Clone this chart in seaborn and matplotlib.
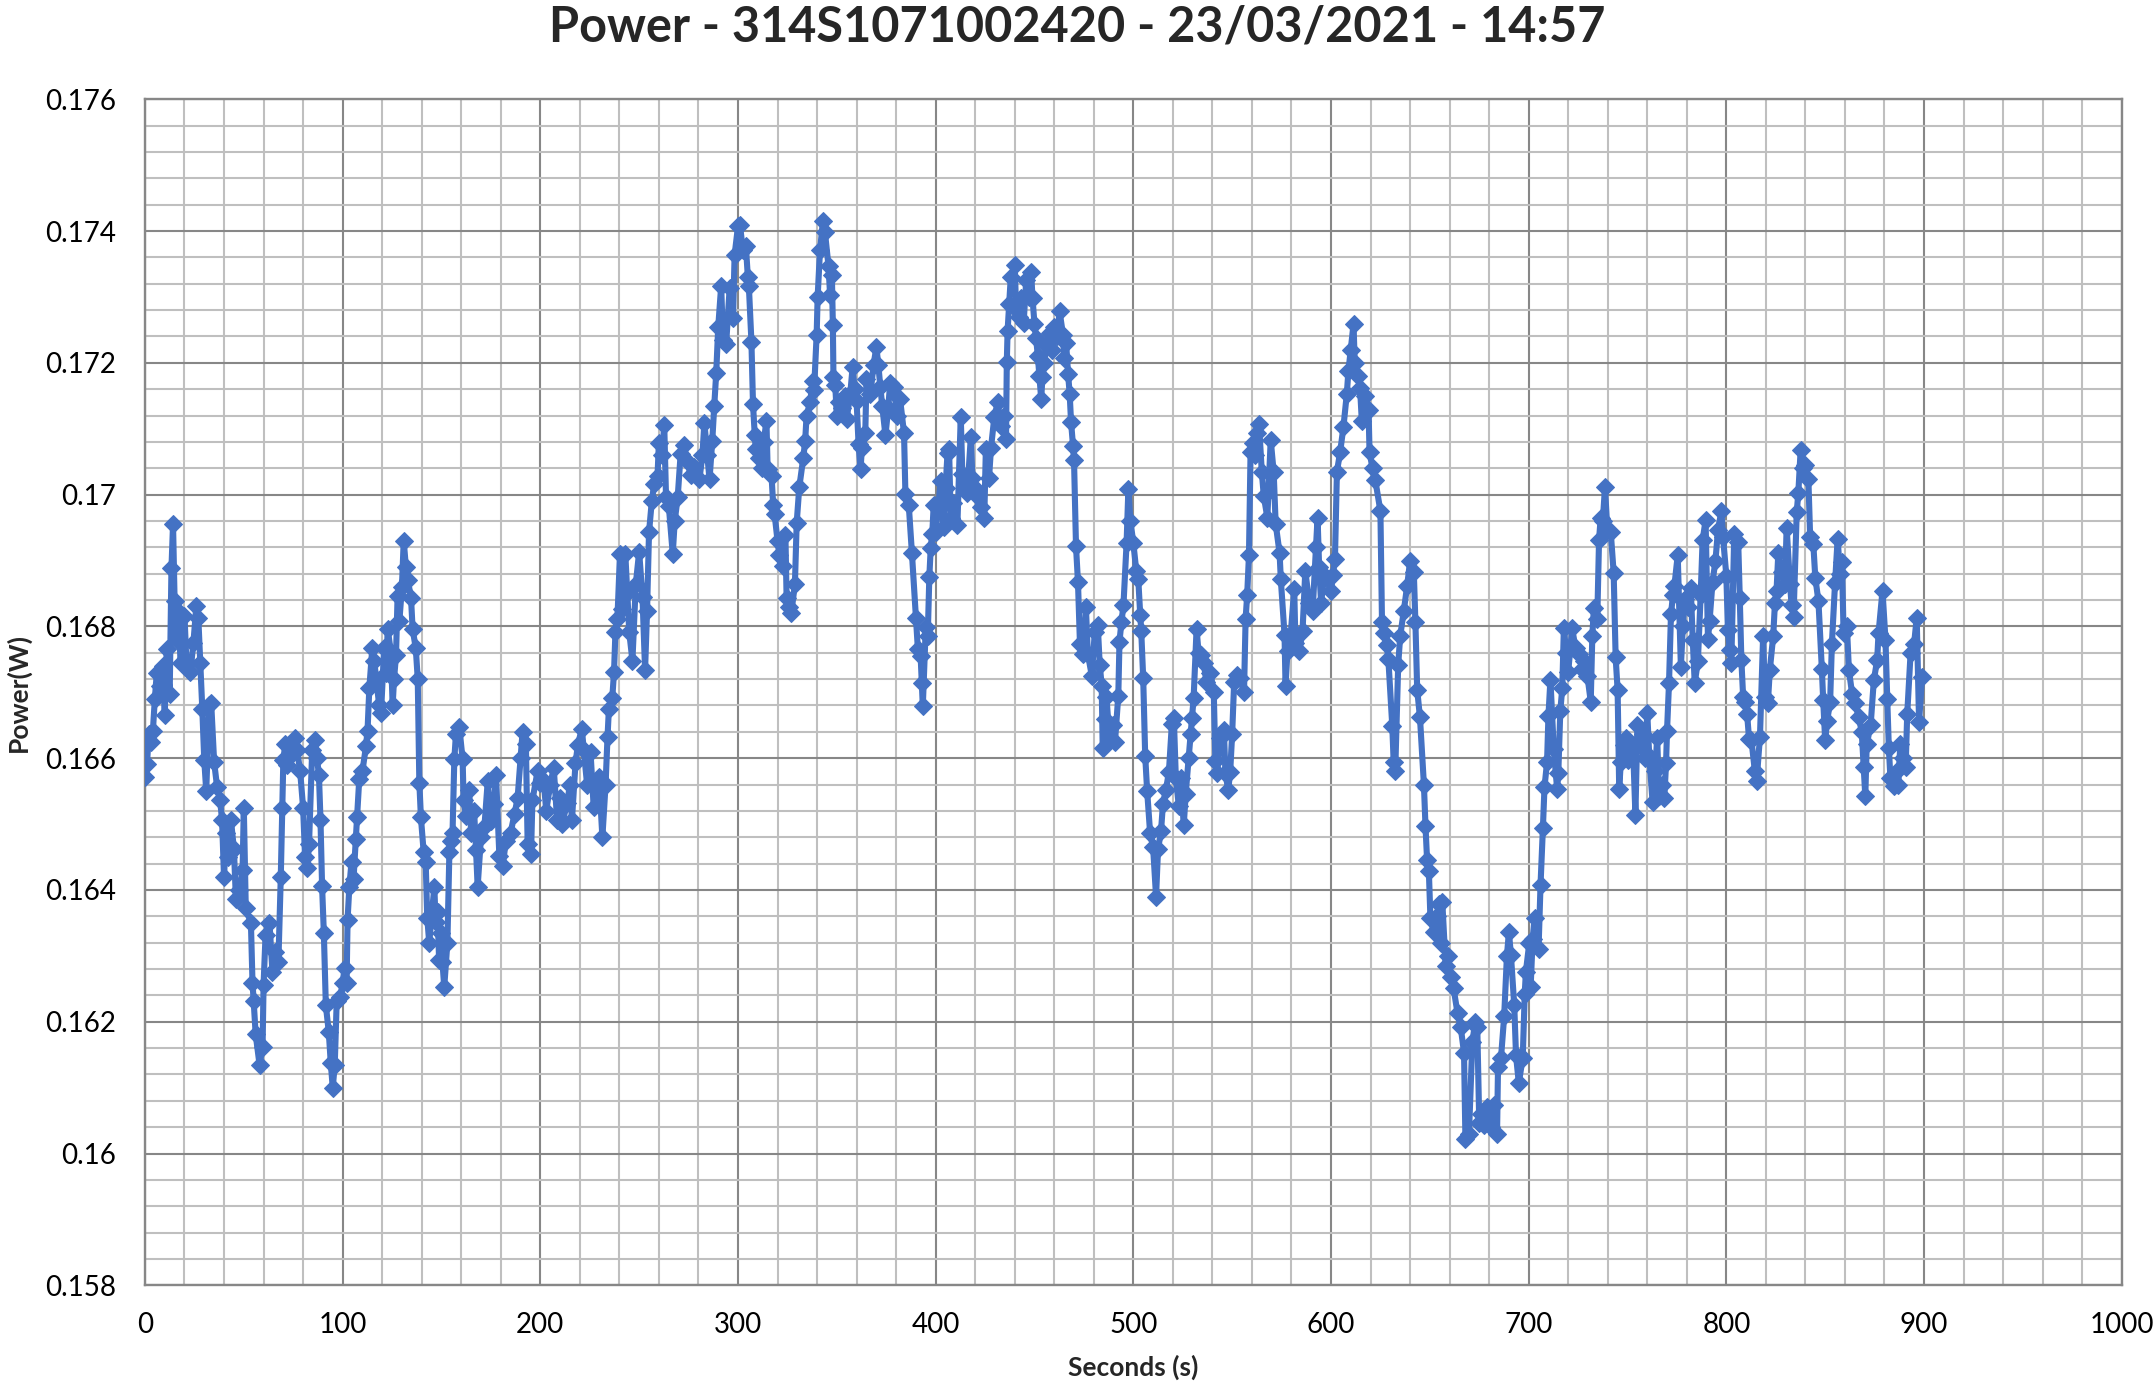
import matplotlib
matplotlib.use("Agg")
import matplotlib.pyplot as plt
from matplotlib.ticker import MultipleLocator, FixedLocator, FixedFormatter
import seaborn as sns
import pandas as pd

# ---------------- data ----------------
seconds = [
    0, 1, 2, 3, 4, 5, 6, 7.5, 9, 10, 11, 12.5, 13.4, 14.2, 15, 16, 17, 18, 20, 21,
    22, 23, 24.5, 26, 27, 28, 29, 30, 31, 32.5, 33.5, 35, 36.5, 38, 39, 40, 41, 42, 43.5, 45,
    46, 47.7, 49.4, 50, 51, 53.6, 54.4, 55, 56, 58, 59.5, 60, 61, 63, 64.5, 66, 67.5, 68.7, 69.5, 70,
    71, 72, 73.5, 74.5, 76, 77, 78.5, 80, 81, 82, 83, 84.6, 86, 87, 88, 88.8, 89.6, 90.5, 91.5, 93,
    94, 95, 96, 97, 98.8, 100,
    101, 102, 102.5, 103.4, 104.5, 105.5, 106.7, 107.3, 108.4, 110, 111.8, 112.6, 113.5, 115, 116, 117, 118.5, 119.4, 121, 122,
    122.8, 124.4, 125.3, 126, 127, 127.8, 128.7, 130, 130.9, 132, 133, 134.6, 135.4, 137, 138, 138.8, 139.6, 141, 142, 142.8,
    143.8, 145, 146.4, 147, 148, 148.8, 149.7, 150.5, 151.4, 153, 154, 154.8, 155.6, 156.5, 157.3, 159, 160.7, 161.2, 162.4, 164,
    165, 166.5, 167.5, 168.3, 170, 171.7, 173.4, 175, 176.5, 177.6, 179.3, 181, 182.6, 185, 187, 188.5, 190, 191, 192.7, 193.6,
    195.3, 196, 198.6, 200,
    201.7, 203, 205, 206.8, 208.5, 210, 211, 213.6, 215, 216, 217.8, 219, 221, 222, 223.7, 225.4, 227, 228.5, 229.7, 231.4,
    233, 234, 234.7, 236.4, 237.3, 238, 239, 240.3, 241.5, 243, 244, 245, 246.6, 248.3, 250, 251.7, 253, 254, 255, 256.4,
    257.6, 259.3, 260, 261.5, 262.7, 263.6, 265, 267, 268, 269.5, 271, 272.5, 274.6, 276, 278, 280.5, 282, 283, 284.5, 285.6,
    287, 288, 289, 290, 291.5, 292.4, 294, 295.8, 297.5, 298.3, 300,
    301, 302.5, 304, 305, 305.5, 306.8, 307.6, 308.5, 309, 310.5, 312, 313, 314.4, 315, 317, 317.8, 318.5, 320, 321, 323,
    324, 324.6, 326, 327, 328.8, 329.7, 331, 333, 334, 334.7, 336.5, 337.8, 338.5, 339.8, 340.3, 341.5, 343, 344, 345.8, 346.6,
    347.5, 348, 348.3, 349.2, 350, 351.2, 352.5, 354, 355, 356.8, 358, 359, 360, 361, 362, 362.7, 364.4, 365, 367, 368.6,
    370, 371, 372, 373, 374.6, 376, 377, 378.8, 380.5, 382, 384, 384.7, 386.4, 388, 390, 391, 392.4, 393, 393.5, 395,
    396, 396.8, 397.5, 398.3, 399, 400,
    401.5, 402.5, 404, 405, 406, 406.8, 407.6, 409, 411, 412.7, 413.5, 415, 416, 417.8, 418.6, 420, 421, 423, 424.6, 425.4,
    427, 428, 429.7, 431.4, 433, 434.5, 435.6, 436, 436.4, 437.2, 438, 440, 440.7, 442, 443, 444.5, 445.8, 447, 448.3, 449,
    450, 450.8, 451.7, 452.5, 453.4, 454, 455, 456, 457.6, 459, 460, 461.5, 462.7, 464.4, 465, 466, 467, 467.8, 468.5, 469.5,
    470, 471, 472, 473, 474.6, 476, 477, 479, 480.5, 482, 483, 484, 484.5, 485.5, 486.4, 488, 489.5, 490.7, 492.4, 493,
    494, 495, 496.6, 497.5, 498.5, 500,
    501.5, 502.5, 503.5, 504, 505, 506, 507, 508.5, 510, 511.5, 512.5, 514, 515, 516.5, 518, 519.5, 520.5, 521.5, 523, 524,
    525.5, 526.5, 528, 529, 529.7, 530.5, 532, 533, 534, 535.6, 537, 539, 540.7, 541.5, 542.4, 544, 545.8, 546.6, 548, 549,
    550, 551, 552.5, 554, 556, 556.8, 557.6, 558.5, 559.3, 560.5, 561.5, 562.7, 563.6, 565, 566, 567.8, 569.5, 571, 572, 574,
    574.6, 576.5, 577, 578, 579.6, 581.4, 582, 584, 585.6, 587, 589, 590.7, 592.4, 593.2, 594, 595, 596.6, 598.3, 600,
    601, 602, 603, 604.6, 606.3, 608, 608.8, 610, 611.4, 612, 613.5, 614.7, 615.6, 617, 619, 619.5, 621, 622.4, 625, 625.8,
    627, 628.3, 629, 631, 631.7, 632.5, 634, 635, 636.8, 638.5, 640, 641.9, 642.7, 643.6, 645, 647, 647.8, 648.6, 649.5, 650.3,
    652, 653.5, 654.6, 655.5, 656.3, 658, 659, 660.5, 662, 664, 665.6, 667.3, 668, 669.8, 671.5, 673, 674, 675, 676, 677.5,
    679, 680, 681, 682.5, 684, 684.5, 686, 687.6, 689, 690, 691, 692.7, 693.6, 695, 697, 698, 698.6, 700.3,
    701, 702, 703, 705, 706, 707.2, 708, 709.3, 710, 711, 712.7, 714.4, 715, 716, 717, 717.8, 719, 720, 722, 723.7,
    725.4, 727, 728, 729.7, 731.4, 732.2, 733, 734.7, 735.6, 736.4, 737.5, 738.6, 739.8, 741.5, 743, 744, 745, 745.8, 746.6, 748,
    749, 750, 751.7, 753, 754, 755, 756.5, 757.6, 759, 760, 761, 762.7, 764, 765, 766, 767.5, 768.6, 769.5, 770, 771,
    772, 773, 773.7, 775.4, 777, 778, 779, 780.5, 782, 783, 784, 785.6, 787, 788, 789.5, 790.7, 791.5, 793, 794.5, 795.8,
    797.5, 798.3, 800,
    800.8, 801.7, 802.5, 804, 806, 806.8, 807.6, 808.5, 809.3, 810.5, 811.5, 812.7, 814.4, 815.3, 817, 818.6, 819.5, 821, 822, 823.7,
    824.6, 825.4, 826.3, 828, 829.7, 830.5, 832.2, 833, 834, 835.6, 836.4, 837.6, 839, 840, 841.5, 842.4, 844, 845, 846.6, 848.3,
    849, 850, 851, 852.5, 853.4, 855, 856.3, 857.5, 858.5, 859.3, 861, 862, 863.6, 865.3, 867, 868.5, 869.5, 870.3, 871, 873,
    874.6, 876.3, 877, 879, 880.5, 881.4, 882.2, 883, 884.7, 886.4, 887, 888, 889.5, 890.7, 891.5, 893.2, 895, 896.3, 897.5, 899,
]

power_w = [
    0.16572, 0.16591, 0.16637, 0.16625, 0.16641, 0.16690, 0.16730, 0.16709, 0.16740, 0.16666, 0.16766, 0.16697, 0.16888, 0.16955, 0.16838, 0.16780, 0.16822, 0.16744, 0.16816, 0.16744,
    0.16744, 0.16731, 0.16775, 0.16831, 0.16812, 0.16744, 0.16675, 0.16597, 0.16550, 0.16681, 0.16684, 0.16594, 0.16556, 0.16537, 0.16506, 0.16419, 0.16487, 0.16450, 0.16506, 0.16462,
    0.16387, 0.16400, 0.16431, 0.16525, 0.16372, 0.16350, 0.16259, 0.16231, 0.16181, 0.16134, 0.16162, 0.16256, 0.16331, 0.16350, 0.16275, 0.16306, 0.16291, 0.16419, 0.16525, 0.16597,
    0.16622, 0.16590, 0.16615, 0.16606, 0.16630, 0.16612, 0.16580, 0.16525, 0.16450, 0.16434, 0.16470, 0.16612, 0.16628, 0.16600, 0.16575, 0.16506, 0.16406, 0.16334, 0.16225, 0.16184,
    0.16137, 0.16100, 0.16134, 0.16231, 0.16237, 0.16259,
    0.16282, 0.16259, 0.16355, 0.16405, 0.16443, 0.16416, 0.16478, 0.16510, 0.16568, 0.16580, 0.16618, 0.16642, 0.16706, 0.16767, 0.16747, 0.16720, 0.16680, 0.16668, 0.16767, 0.16730,
    0.16796, 0.16761, 0.16680, 0.16720, 0.16756, 0.16846, 0.16808, 0.16860, 0.16930, 0.16890, 0.16870, 0.16843, 0.16796, 0.16767, 0.16720, 0.16563, 0.16510, 0.16457, 0.16443, 0.16358,
    0.16320, 0.16360, 0.16405, 0.16352, 0.16367, 0.16294, 0.16335, 0.16290, 0.16253, 0.16320, 0.16457, 0.16475, 0.16487, 0.16598, 0.16636, 0.16648, 0.16598, 0.16536, 0.16513, 0.16551,
    0.16487, 0.16520, 0.16460, 0.16405, 0.16481, 0.16495, 0.16565, 0.16504, 0.16530, 0.16574, 0.16451, 0.16437, 0.16475, 0.16487, 0.16516, 0.16539, 0.16600, 0.16639, 0.16621, 0.16469,
    0.16454, 0.16536, 0.16580, 0.16563,
    0.16566, 0.16520, 0.16560, 0.16585, 0.16506, 0.16540, 0.16500, 0.16532, 0.16560, 0.16506, 0.16592, 0.16620, 0.16645, 0.16612, 0.16559, 0.16609, 0.16526, 0.16560, 0.16572, 0.16480,
    0.16559, 0.16632, 0.16675, 0.16691, 0.16731, 0.16791, 0.16811, 0.16910, 0.16827, 0.16910, 0.16850, 0.16791, 0.16748, 0.16864, 0.16913, 0.16844, 0.16734, 0.16824, 0.16943, 0.16990,
    0.17016, 0.17029, 0.17079, 0.17060, 0.17105, 0.16996, 0.16983, 0.16910, 0.16960, 0.16996, 0.17062, 0.17075, 0.17049, 0.17030, 0.17042, 0.17023, 0.17060, 0.17109, 0.17060, 0.17023,
    0.17082, 0.17135, 0.17185, 0.17254, 0.17317, 0.17234, 0.17228, 0.17314, 0.17268, 0.17364, 0.17407,
    0.17409, 0.17371, 0.17377, 0.17330, 0.17317, 0.17232, 0.17137, 0.17090, 0.17069, 0.17055, 0.17041, 0.17080, 0.17112, 0.17039, 0.17028, 0.16984, 0.16971, 0.16930, 0.16908, 0.16892,
    0.16938, 0.16843, 0.16830, 0.16821, 0.16864, 0.16957, 0.17011, 0.17055, 0.17082, 0.17120, 0.17140, 0.17172, 0.17159, 0.17243, 0.17300, 0.17371, 0.17415, 0.17398, 0.17347, 0.17303,
    0.17333, 0.17257, 0.17178, 0.17167, 0.17120, 0.17140, 0.17131, 0.17150, 0.17115, 0.17153, 0.17194, 0.17160, 0.17142, 0.17077, 0.17039, 0.17071, 0.17093, 0.17175, 0.17153, 0.17197,
    0.17224, 0.17197, 0.17164, 0.17134, 0.17090, 0.17131, 0.17170, 0.17164, 0.17120, 0.17145, 0.17093, 0.17001, 0.16984, 0.16911, 0.16813, 0.16766, 0.16755, 0.16714, 0.16679, 0.16799,
    0.16785, 0.16875, 0.16919, 0.16941, 0.16984, 0.16943,
    0.16987, 0.17020, 0.16951, 0.17010, 0.17063, 0.17069, 0.16965, 0.16987, 0.16954, 0.17118, 0.17031, 0.17010, 0.17003, 0.17088, 0.17025, 0.17010, 0.16998, 0.16981, 0.16965, 0.17069,
    0.17025, 0.17071, 0.17118, 0.17140, 0.17104, 0.17120, 0.17085, 0.17202, 0.17249, 0.17290, 0.17330, 0.17349, 0.17281, 0.17270, 0.17298, 0.17260, 0.17325, 0.17300, 0.17338, 0.17298,
    0.17259, 0.17238, 0.17210, 0.17180, 0.17145, 0.17178, 0.17200, 0.17227, 0.17246, 0.17220, 0.17254, 0.17240, 0.17278, 0.17243, 0.17208, 0.17230, 0.17183, 0.17153, 0.17110, 0.17074,
    0.17052, 0.16922, 0.16867, 0.16774, 0.16758, 0.16829, 0.16758, 0.16725, 0.16791, 0.16802, 0.16742, 0.16710, 0.16616, 0.16660, 0.16693, 0.16627, 0.16650, 0.16624, 0.16695, 0.16777,
    0.16807, 0.16832, 0.16927, 0.17009, 0.16960, 0.16927,
    0.16884, 0.16872, 0.16817, 0.16793, 0.16721, 0.16604, 0.16550, 0.16486, 0.16465, 0.16390, 0.16462, 0.16489, 0.16531, 0.16552, 0.16579, 0.16652, 0.16661, 0.16570, 0.16528, 0.16570,
    0.16498, 0.16546, 0.16600, 0.16637, 0.16661, 0.16691, 0.16796, 0.16760, 0.16757, 0.16745, 0.16715, 0.16730, 0.16700, 0.16595, 0.16577, 0.16631, 0.16643, 0.16577, 0.16552, 0.16579,
    0.16637, 0.16715, 0.16727, 0.16721, 0.16700, 0.16811, 0.16848, 0.16908, 0.17064, 0.17079, 0.17060, 0.17094, 0.17107, 0.17034, 0.16998, 0.16965, 0.17083, 0.17034, 0.16956, 0.16911,
    0.16872, 0.16787, 0.16710, 0.16763, 0.16787, 0.16857, 0.16775, 0.16763, 0.16793, 0.16884, 0.16836, 0.16823, 0.16920, 0.16965, 0.16890, 0.16836, 0.16878, 0.16872, 0.16854,
    0.16878, 0.16903, 0.17035, 0.17064, 0.17103, 0.17153, 0.17187, 0.17220, 0.17259, 0.17200, 0.17180, 0.17162, 0.17111, 0.17150, 0.17128, 0.17064, 0.17040, 0.17022, 0.16975, 0.16806,
    0.16790, 0.16772, 0.16751, 0.16649, 0.16594, 0.16581, 0.16742, 0.16785, 0.16823, 0.16861, 0.16899, 0.16882, 0.16806, 0.16704, 0.16662, 0.16560, 0.16497, 0.16446, 0.16429, 0.16357,
    0.16336, 0.16360, 0.16378, 0.16319, 0.16382, 0.16285, 0.16300, 0.16268, 0.16251, 0.16213, 0.16192, 0.16153, 0.16022, 0.16030, 0.16169, 0.16200, 0.16192, 0.16047, 0.16060, 0.16043,
    0.16070, 0.16064, 0.16040, 0.16073, 0.16030, 0.16132, 0.16145, 0.16208, 0.16300, 0.16336, 0.16302, 0.16225, 0.16149, 0.16107, 0.16145, 0.16242, 0.16276, 0.16319,
    0.16253, 0.16325, 0.16358, 0.16311, 0.16408, 0.16494, 0.16556, 0.16594, 0.16664, 0.16719, 0.16614, 0.16553, 0.16578, 0.16672, 0.16706, 0.16797, 0.16760, 0.16731, 0.16797, 0.16767,
    0.16758, 0.16736, 0.16747, 0.16725, 0.16686, 0.16786, 0.16828, 0.16811, 0.16931, 0.16964, 0.16960, 0.17011, 0.16947, 0.16944, 0.16881, 0.16753, 0.16703, 0.16553, 0.16594, 0.16620,
    0.16631, 0.16597, 0.16619, 0.16600, 0.16514, 0.16650, 0.16620, 0.16636, 0.16600, 0.16669, 0.16603, 0.16533, 0.16580, 0.16631, 0.16542, 0.16560, 0.16539, 0.16592, 0.16642, 0.16714,
    0.16819, 0.16847, 0.16861, 0.16908, 0.16739, 0.16800, 0.16842, 0.16830, 0.16858, 0.16780, 0.16714, 0.16747, 0.16847, 0.16931, 0.16961, 0.16781, 0.16808, 0.16867, 0.16900, 0.16947,
    0.16975, 0.16936, 0.16877,
    0.16795, 0.16764, 0.16744, 0.16940, 0.16928, 0.16843, 0.16749, 0.16693, 0.16685, 0.16667, 0.16629, 0.16627, 0.16581, 0.16565, 0.16632, 0.16785, 0.16693, 0.16683, 0.16734, 0.16785,
    0.16836, 0.16854, 0.16912, 0.16882, 0.16864, 0.16950, 0.16864, 0.16833, 0.16815, 0.16973, 0.17002, 0.17068, 0.17040, 0.17045, 0.17024, 0.16935, 0.16925, 0.16874, 0.16838, 0.16736,
    0.16688, 0.16627, 0.16657, 0.16685, 0.16774, 0.16866, 0.16933, 0.16880, 0.16897, 0.16790, 0.16800, 0.16734, 0.16698, 0.16683, 0.16662, 0.16640, 0.16586, 0.16542, 0.16621, 0.16650,
    0.16718, 0.16749, 0.16790, 0.16854, 0.16780, 0.16690, 0.16616, 0.16570, 0.16558, 0.16581, 0.16560, 0.16621, 0.16600, 0.16586, 0.16667, 0.16759, 0.16774, 0.16813, 0.16655, 0.16723,
]

x_ticks = [0, 100, 200, 300, 400, 500, 600, 700, 800, 900, 1000]
x_tick_labels = ["0", "100", "200", "300", "400", "500", "600", "700", "800", "900", "1000"]
y_ticks = [0.158, 0.160, 0.162, 0.164, 0.166, 0.168, 0.170, 0.172, 0.174, 0.176]
y_tick_labels = ["0.158", "0.16", "0.162", "0.164", "0.166", "0.168", "0.17", "0.172", "0.174", "0.176"]

title_text = "Power - 314S1071002420 - 23/03/2021 - 14:57"
x_label = "Seconds (s)"
y_label = "Power(W)"

n = min(len(seconds), len(power_w))
df = pd.DataFrame({"Seconds": seconds[:n], "Power": power_w[:n]})

# ---------------- styling ----------------
sns.set_theme(style="white")
plt.rcParams["font.family"] = ["Lato", "DejaVu Sans"]

LINE = "#4472C4"
MAJOR = "#878787"
MINOR = "#BFBFBF"

fig = plt.figure(figsize=(21.54, 13.85), dpi=100)
ax = fig.add_axes([0.0673, 0.072, 0.9177, 0.8563])

sns.lineplot(data=df, x="Seconds", y="Power", ax=ax, estimator=None, sort=False,
             color=LINE, linewidth=4.4, marker="D", markersize=9.5,
             markeredgecolor=LINE, markerfacecolor=LINE, zorder=3)

ax.set_xlim(0, 1000)
ax.set_ylim(0.158, 0.176)
ax.xaxis.set_major_locator(FixedLocator(x_ticks))
ax.xaxis.set_major_formatter(FixedFormatter(x_tick_labels))
ax.yaxis.set_major_locator(FixedLocator(y_ticks))
ax.yaxis.set_major_formatter(FixedFormatter(y_tick_labels))
ax.xaxis.set_minor_locator(MultipleLocator(20))
ax.yaxis.set_minor_locator(MultipleLocator(0.0004))

ax.grid(which="minor", color=MINOR, linewidth=1.5, zorder=0)
ax.grid(which="major", color=MAJOR, linewidth=1.5, zorder=1)
ax.set_axisbelow(True)

for s in ax.spines.values():
    s.set_color(MAJOR)
    s.set_linewidth(1.7)

ax.tick_params(which="major", axis="both", direction="out", length=7, width=1.5,
               color=MAJOR, labelsize=20, labelcolor="black")
ax.tick_params(axis="y", pad=14)
ax.tick_params(axis="x", pad=12)
ax.tick_params(which="minor", length=0)

ax.set_xlabel(x_label, fontsize=19, fontweight="bold", labelpad=12)
ax.set_ylabel(y_label, fontsize=19, fontweight="bold", labelpad=10)
fig.suptitle(title_text, fontsize=35, fontweight="bold", y=0.997, va="top")

fig.savefig("out.png", dpi=100)
